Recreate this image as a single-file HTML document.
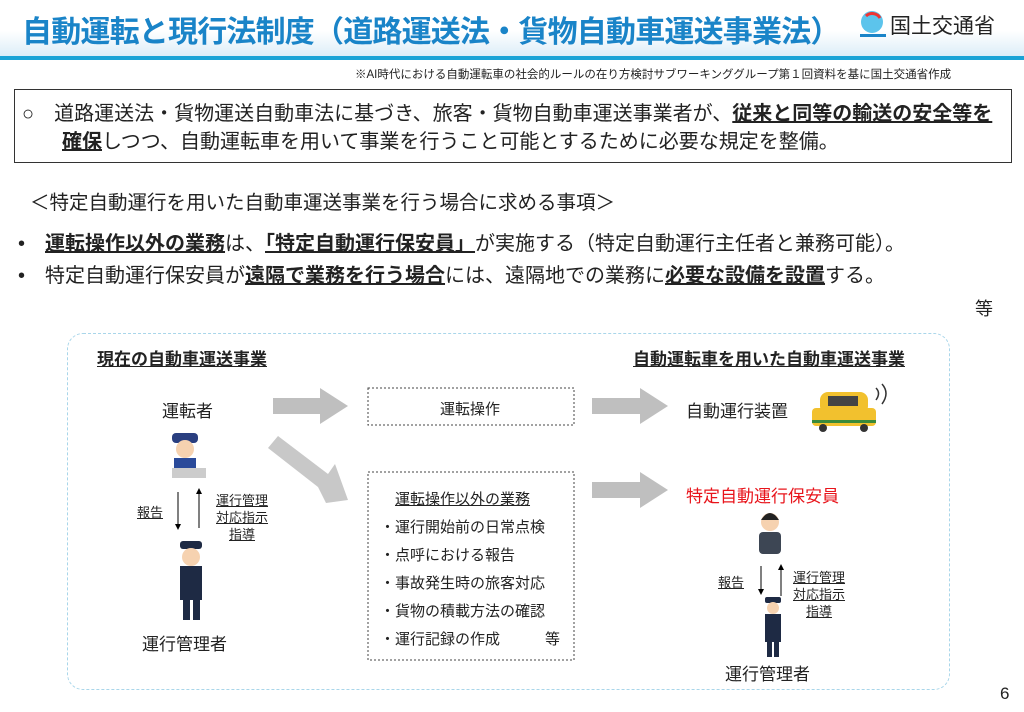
<!DOCTYPE html>
<html><head><meta charset="utf-8"><style>
*{margin:0;padding:0;box-sizing:border-box}
body{width:1024px;height:712px;background:#fff;position:relative;overflow:hidden;font-family:"Liberation Sans","Noto Sans CJK JP",sans-serif;color:#222}
.a{position:absolute;white-space:nowrap}
.u{text-decoration:underline}
b{font-weight:bold}
</style></head><body>
<div class="a" style="left:0;top:0;width:1024px;height:56px;background:linear-gradient(#fff 0%,#fff 55%,#dcedf8 100%)"></div>
<div class="a" style="left:0;top:56px;width:1024px;height:4px;background:#1aa3d6"></div>
<div class="a" style="left:22px;top:7px;font-size:30px;font-weight:bold;color:#1a84c8;letter-spacing:-0.8px">自動運転と現行法制度（道路運送法・貨物自動車運送事業法）</div>
<svg class="a" style="left:858px;top:8px" width="30" height="34"><circle cx="14" cy="14" r="11" fill="#5cc4ec"/><path d="M8 8 A9 9 0 0 1 22 10" stroke="#e33" stroke-width="3" fill="none"/><rect x="2" y="26" width="26" height="3" fill="#1a84c8"/></svg>
<div class="a" style="left:890px;top:10px;font-size:21px;color:#222">国土交通省</div>
<div class="a" style="left:355px;top:66px;font-size:11.5px;color:#222">※AI時代における自動運転車の社会的ルールの在り方検討サブワーキンググループ第１回資料を基に国土交通省作成</div>
<div class="a" style="left:14px;top:89px;width:998px;height:74px;border:1.5px solid #333"></div>
<div class="a" style="left:22px;top:100px;font-size:20px;line-height:28px">○　道路運送法・貨物運送自動車法に基づき、旅客・貨物自動車運送事業者が、<b class="u">従来と同等の輸送の安全等を</b><br>　　<b class="u">確保</b>しつつ、自動運転車を用いて事業を行うこと可能とするために必要な規定を整備。</div>
<div class="a" style="left:30px;top:186px;font-size:19.5px">＜特定自動運行を用いた自動車運送事業を行う場合に求める事項＞</div>
<div class="a" style="left:18px;top:227px;font-size:20px">•　<b class="u">運転操作以外の業務</b>は、<b class="u">「特定自動運行保安員」</b>が実施する（特定自動運行主任者と兼務可能）。</div>
<div class="a" style="left:18px;top:259px;font-size:20px">•　特定自動運行保安員が<b class="u">遠隔で業務を行う場合</b>には、遠隔地での業務に<b class="u">必要な設備を設置</b>する。</div>
<div class="a" style="left:975px;top:295px;font-size:18px">等</div>
<div class="a" style="left:67px;top:333px;width:883px;height:357px;border:1px dashed #a9d6ea;border-radius:16px"></div>
<div class="a u" style="left:97px;top:345px;font-size:17px;font-weight:bold">現在の自動車運送事業</div>
<div class="a u" style="left:633px;top:345px;font-size:17px;font-weight:bold">自動運転車を用いた自動車運送事業</div>
<div class="a" style="left:162px;top:397px;font-size:17px">運転者</div>
<div class="a" style="left:142px;top:630px;font-size:17px">運行管理者</div>
<svg class="a" style="left:0;top:0" width="1024" height="712">
<polygon points="273,398 320,398 320,388 348,406 320,424 320,414 273,414" fill="#bfbfbf"/>
<polygon points="592,398 640,398 640,388 668,406 640,424 640,414 592,414" fill="#bfbfbf"/>
<polygon points="592,482 640,482 640,472 668,490 640,508 640,498 592,498" fill="#bfbfbf"/>
<polygon points="268,448 278,436 328,474 335,464 348,500 326,503 318,487" fill="#c8c8c8"/>
<rect x="368" y="388" width="206" height="37" fill="none" stroke="#444" stroke-dasharray="2,2"/>
<rect x="368" y="472" width="206" height="188" fill="none" stroke="#444" stroke-dasharray="2,2"/>
<rect x="172" y="433" width="26" height="10" rx="4" fill="#2a3f80"/>
<circle cx="185" cy="449" r="9" fill="#f6d2b0"/>
<rect x="174" y="458" width="22" height="10" fill="#2a4a9a"/>
<rect x="172" y="468" width="34" height="10" fill="#ccc"/>
<line x1="178" y1="492" x2="178" y2="528" stroke="#000"/><polygon points="175,524 181,524 178,530" fill="#000"/>
<line x1="199" y1="490" x2="199" y2="528" stroke="#000"/><polygon points="196,494 202,494 199,488" fill="#000"/>
<rect x="180" y="541" width="22" height="8" rx="3" fill="#1e2a44"/>
<circle cx="191" cy="557" r="9" fill="#f6d2b0"/>
<rect x="180" y="566" width="22" height="34" fill="#1e2a44"/>
<rect x="183" y="600" width="7" height="20" fill="#1e2a44"/><rect x="193" y="600" width="7" height="20" fill="#1e2a44"/>
<rect x="820" y="392" width="48" height="22" rx="8" fill="#f2c12e"/>
<rect x="812" y="408" width="64" height="18" rx="4" fill="#f2c12e"/>
<rect x="812" y="420" width="64" height="3" fill="#3a8a3a"/>
<circle cx="823" cy="428" r="4" fill="#333"/><circle cx="864" cy="428" r="4" fill="#333"/>
<rect x="828" y="396" width="30" height="10" fill="#444"/>
<path d="M876 388 q5 5 0 12 M882 384 q8 9 0 20" stroke="#333" fill="none" stroke-width="1.5"/>
<circle cx="770" cy="522" r="9" fill="#f6d2b0"/><path d="M761 520 q9 -14 18 0" fill="#222"/>
<rect x="759" y="532" width="22" height="22" rx="4" fill="#3d4654"/>
<line x1="761" y1="566" x2="761" y2="593" stroke="#000"/><polygon points="758,589 764,589 761,595" fill="#000"/>
<line x1="781" y1="566" x2="781" y2="596" stroke="#000"/><polygon points="778,570 784,570 781,564" fill="#000"/>
<rect x="765" y="597" width="16" height="6" rx="2" fill="#1e2a44"/>
<circle cx="773" cy="608" r="6" fill="#f6d2b0"/>
<rect x="765" y="614" width="16" height="28" fill="#1e2a44"/>
<rect x="767" y="642" width="5" height="15" fill="#1e2a44"/><rect x="774" y="642" width="5" height="15" fill="#1e2a44"/>
</svg>
<div class="a u" style="left:137px;top:502px;font-size:13px">報告</div>
<div class="a u" style="left:216px;top:492px;font-size:13px;line-height:17px;text-align:center">運行管理<br>対応指示<br>指導</div>
<div class="a" style="left:440px;top:398px;font-size:15px">運転操作</div>
<div class="a" style="left:380px;top:486px;font-size:15px;line-height:28px"><span class="u" style="margin-left:15px">運転操作以外の業務</span><br>・運行開始前の日常点検<br>・点呼における報告<br>・事故発生時の旅客対応<br>・貨物の積載方法の確認<br>・運行記録の作成　　　等</div>
<div class="a" style="left:686px;top:397px;font-size:17px">自動運行装置</div>
<div class="a" style="left:686px;top:482px;font-size:17px;color:#e8141b">特定自動運行保安員</div>
<div class="a u" style="left:718px;top:572px;font-size:13px">報告</div>
<div class="a u" style="left:793px;top:569px;font-size:13px;line-height:17px;text-align:center">運行管理<br>対応指示<br>指導</div>
<div class="a" style="left:725px;top:660px;font-size:17px">運行管理者</div>
<div class="a" style="left:1000px;top:684px;font-size:17px">6</div>
</body></html>
